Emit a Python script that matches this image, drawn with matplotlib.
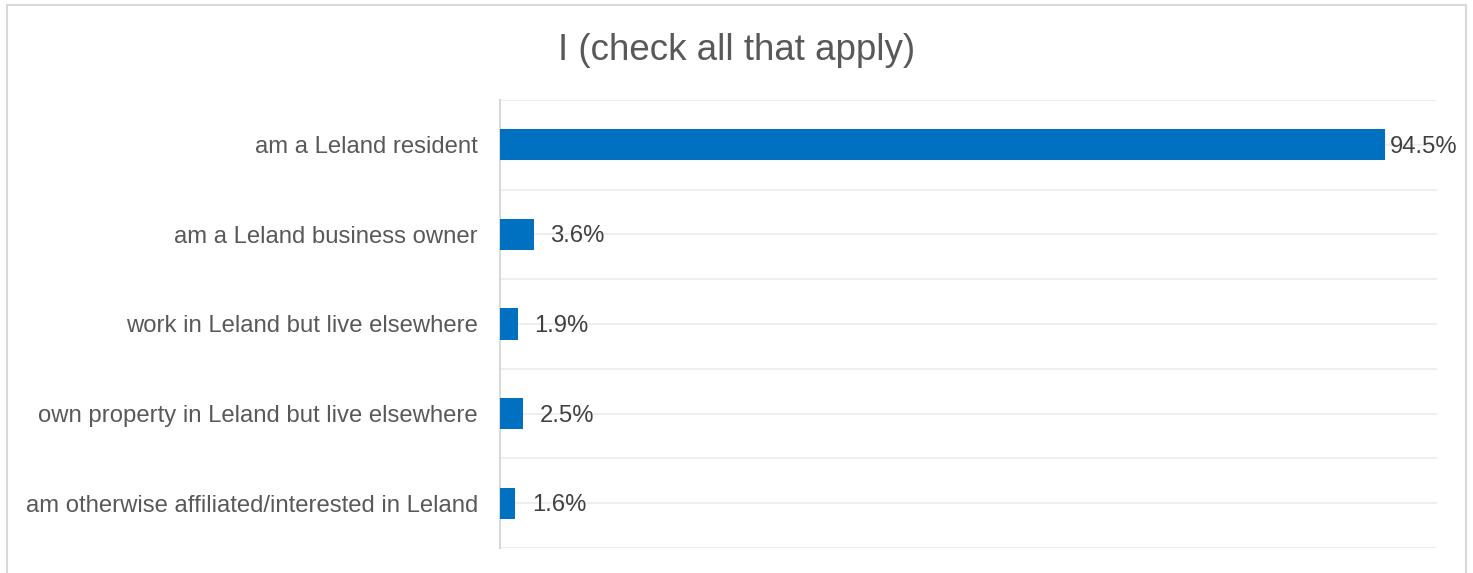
import numpy as np
import matplotlib
matplotlib.use('Agg')
import matplotlib.pyplot as plt
from matplotlib.patches import Rectangle

plt.rcParams['font.family'] = ['Liberation Sans', 'DejaVu Sans']

# survey answers, top to bottom
categories = ['am a Leland resident',
              'am a Leland business owner',
              'work in Leland but live elsewhere',
              'own property in Leland but live elsewhere',
              'am otherwise affiliated/interested in Leland']
percents = [94.5, 3.6, 1.9, 2.5, 1.6]
title = 'I (check all that apply)'

W, H = 1473, 573
fig = plt.figure(figsize=(W / 100, H / 100), dpi=100)
ax = fig.add_axes([500 / W, 25 / H, 937 / W, 448 / H])

grey_txt = '#595959'
y = np.arange(len(categories))
ax.barh(y, percents, height=0.35, color='#0070C0', zorder=3)

# light lines at every half category step
for g in np.arange(-0.5, len(categories), 0.5):
    ax.axhline(g, color='#EEEEEE', lw=1.5, zorder=1)

ax.set_xlim(0, 100)
ax.set_ylim(len(categories) - 0.5, -0.5)
ax.set_yticks(y)
ax.set_yticklabels(categories, fontsize=17.2, color=grey_txt)
ax.tick_params(axis='y', length=0, pad=16)
ax.set_xticks([])
for s in ['top', 'right', 'bottom']:
    ax.spines[s].set_visible(False)
ax.spines['left'].set_color('#D9D9D9')
ax.spines['left'].set_linewidth(1.5)

for yi, v in zip(y, percents):
    off = 3 if v > 90 else 12
    ax.annotate(f'{v}%', (v, yi), xytext=(off, -1.5), textcoords='offset points',
                va='center', ha='left', fontsize=17.2, color='#404040', zorder=4)

fig.text(737 / W, 1 - 50 / H, title, ha='center', va='center',
         fontsize=26.5, color=grey_txt)

# chart frame
fig.patches.append(Rectangle((7 / W, -0.05), 1459 / W, 1.05 - 5 / H,
                             transform=fig.transFigure, fill=False,
                             edgecolor='#D9D9D9', lw=1.5))

fig.savefig('out.png', dpi=100)
